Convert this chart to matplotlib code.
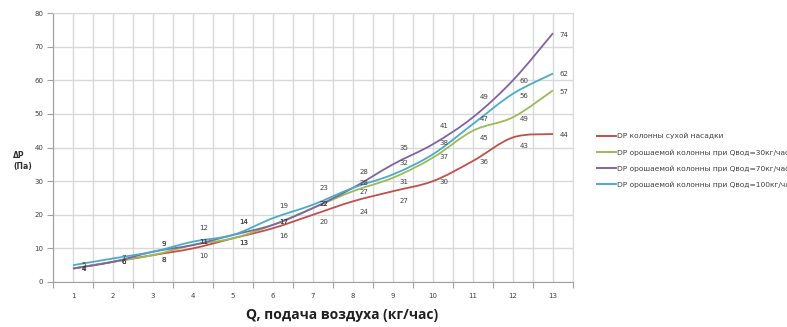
import numpy as np
import matplotlib.pyplot as plt
from matplotlib.path import Path
from matplotlib.patches import PathPatch
from matplotlib.lines import Line2D

# подача воздуха, кг/час
q = [1, 2, 3, 4, 5, 6, 7, 8, 9, 10, 11, 12, 13]

# перепад давления, Па
dp_dry = [4, 6, 8, 10, 13, 16, 20, 24, 27, 30, 36, 43, 44]
dp_30 = [4, 6, 8, 11, 13, 17, 22, 27, 31, 37, 45, 49, 57]
dp_70 = [4, 6, 9, 11, 14, 17, 22, 28, 35, 41, 49, 60, 74]
dp_100 = [5, 7, 9, 12, 14, 19, 23, 28, 32, 38, 47, 56, 62]

names = ['DP колонны сухой насадки',
         'DP орошаемой колонны при Qвод=30кг/час',
         'DP орошаемой колонны при Qвод=70кг/час',
         'DP орошаемой колонны при Qвод=100кг/час']
colors = ['#C0504D', '#9BBB59', '#8064A2', '#4BACC6']

# сдвиг подписей по вертикали (как в исходной диаграмме)
dy_dry = [-0.1, 0, -1.5, -2.3, -1.4, -2.3, -2.1, -3.2, -2.9, -0.2, -0.3, -2.5, -0.2]
dy_30 = [-0.1, 0, -1.5, 0.9, -1.4, 0.9, 1.2, -0.2, -1.2, 0.2, -2.1, -0.5, -0.5]
dy_70 = [-0.1, 0, 2.3, 0.9, 3.9, 0.9, 1.2, 4.7, 4.9, 5.4, 6.0, -0.2, -0.5]
dy_100 = [0, 0, 2.3, 4.0, 3.9, 3.6, 5.0, 1.5, 3.4, 3.4, 1.5, -0.6, 0]


def smooth_path(x, y):
    # сглаженная линия как в Excel (Catmull-Rom -> Bezier)
    p = np.column_stack([x, y]).astype(float)
    ext = np.vstack([p[0], p, p[-1]])
    verts = [p[0]]
    codes = [Path.MOVETO]
    for i in range(len(p) - 1):
        p0, p1, p2, p3 = ext[i], ext[i + 1], ext[i + 2], ext[i + 3]
        c1 = p1 + (p2 - p0) / 6.0
        c2 = p2 - (p3 - p1) / 6.0
        verts += [c1, c2, p2]
        codes += [Path.CURVE4] * 3
    return Path(verts, codes)


fig = plt.figure(figsize=(7.87, 3.27), dpi=100)
ax = fig.add_axes([53 / 787, 1 - 282 / 327, 520 / 787, 269 / 327])

ax.set_xlim(0.5, 13.5)
ax.set_ylim(0, 80)

series = [dp_dry, dp_30, dp_70, dp_100]
offsets = [dy_dry, dy_30, dy_70, dy_100]
for vals, col in zip(series, colors):
    ax.add_patch(PathPatch(smooth_path(q, vals), facecolor='none',
                           edgecolor=col, lw=1.3, zorder=3))

for vals, dys in zip(series, offsets):
    for xi, v, d in zip(q, vals, dys):
        ax.text(xi + 0.27, v + d, str(v), fontsize=5, color='#404040',
                ha='center', va='center', zorder=4)

# сетка и оси
ax.set_xticks(np.arange(0.5, 13.6, 1))
ax.set_xticklabels([])
ax.set_xticks(q, minor=True)
ax.set_xticklabels([str(v) for v in q], minor=True, fontsize=5, color='#404040')
ax.set_yticks(np.arange(0, 81, 10))
ax.set_yticklabels([str(v) for v in range(0, 81, 10)], fontsize=5, color='#404040')
ax.tick_params(axis='x', which='major', length=4, color='#a0a0a0', direction='out')
ax.tick_params(axis='x', which='minor', length=0, pad=8)
ax.tick_params(axis='y', length=4, color='#a0a0a0', pad=3)
ax.grid(True, which='both', color='#d9d9d9', lw=1.0, zorder=0)
ax.set_axisbelow(True)
for s in ['top', 'right']:
    ax.spines[s].set_color('#d9d9d9')
for s in ['left', 'bottom']:
    ax.spines[s].set_color('#a0a0a0')

fig.text(13 / 787, 1 - 156 / 327, 'ΔP', fontsize=5.5, fontweight='bold',
         color='#303030', ha='left', va='center')
fig.text(13 / 787, 1 - 167 / 327, '(Па)', fontsize=5.5, fontweight='bold',
         color='#303030', ha='left', va='center')
fig.text(342 / 787, 1 - 315 / 327, 'Q, подача воздуха (кг/час)',
         fontsize=10, fontweight='bold', family='Open Sans', color='#202020',
         ha='center', va='center')

handles = [Line2D([], [], color=c, lw=1.4) for c in colors]
fig.legend(handles, names, loc='upper left',
           bbox_to_anchor=(593 / 787, 1 - 129 / 327), frameon=False,
           fontsize=5.4, labelcolor='#404040', handlelength=2.6,
           handletextpad=0.1, labelspacing=1.3, borderpad=0)

fig.savefig('out.png', dpi=100)
